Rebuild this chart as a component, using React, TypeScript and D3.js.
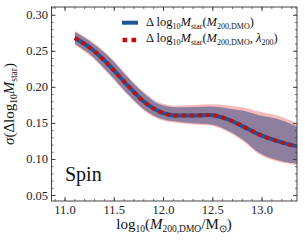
import React from "react";
import * as d3 from "d3";

const massX = [11.1, 11.28, 11.46, 11.63, 11.8, 11.96, 12.13, 12.3, 12.47, 12.64, 12.81, 12.98, 13.15, 13.32, 13.39];
const sigmaHalo = [0.2683, 0.2521, 0.2289, 0.2035, 0.1803, 0.1664, 0.1609, 0.1609, 0.1618, 0.1563, 0.1456, 0.134, 0.1257, 0.1192, 0.1174];
const haloUpper = [0.2766, 0.2613, 0.2405, 0.215, 0.1919, 0.1766, 0.1725, 0.1729, 0.1734, 0.1711, 0.1674, 0.1609, 0.1563, 0.1479, 0.1433];
const haloLower = [0.26, 0.2428, 0.2174, 0.1919, 0.1697, 0.1572, 0.1525, 0.1502, 0.1488, 0.141, 0.1271, 0.1086, 0.0993, 0.0947, 0.0932];
const sigmaSpin = [0.2683, 0.2521, 0.2289, 0.2035, 0.1803, 0.1664, 0.1609, 0.1609, 0.1618, 0.1563, 0.1456, 0.134, 0.1257, 0.1192, 0.1174];
const spinUpper = [0.278, 0.2627, 0.242, 0.2165, 0.1935, 0.1785, 0.1745, 0.1755, 0.1765, 0.175, 0.172, 0.166, 0.161, 0.152, 0.147];
const spinLower = [0.2585, 0.2412, 0.2158, 0.1903, 0.168, 0.1555, 0.1508, 0.1485, 0.147, 0.139, 0.125, 0.1065, 0.0975, 0.093, 0.0915];

const xTicks = [11.0, 11.5, 12.0, 12.5, 13.0];
const yTicks = [0.05, 0.1, 0.15, 0.2, 0.25, 0.3];

const W = 305, H = 243;
const L = 51.5, R = 297, T = 7, B = 201;
const FONT = "'Liberation Serif', 'Times New Roman', serif";

export default function App() {
  const x = d3.scaleLinear().domain([10.863, 13.355]).range([L, R]);
  const y = d3.scaleLinear().domain([0.0424, 0.3114]).range([B, T]);

  const idx = massX.map((_, i) => i);
  const area = (up: number[], lo: number[]) =>
    d3.area<number>().x(i => x(massX[i])).y0(i => y(lo[i])).y1(i => y(up[i])).curve(d3.curveMonotoneX)(idx) || "";
  const line = (v: number[]) =>
    d3.line<number>().x(i => x(massX[i])).y(i => y(v[i])).curve(d3.curveMonotoneX)(idx) || "";

  const xMinor = d3.range(108, 134).map(v => v / 10).filter(v => v >= 10.863 && v <= 13.355);
  const yMinor = d3.range(5, 32).map(v => v / 100).filter(v => v >= 0.0424 && v <= 0.3114);
  const axisColor = "#444";

  const sub = (t: string, fs = 8) => (
    <tspan fontSize={fs} baselineShift="-3">{t}</tspan>
  );

  return (
    <svg width={W} height={H} style={{ position: "absolute", left: 0, top: 0, background: "#fff" }} fontFamily={FONT}>
      <defs>
        <clipPath id="plot">
          <rect x={L} y={T} width={R - L} height={B - T} />
        </clipPath>
      </defs>
      <g clipPath="url(#plot)">
        <path d={area(spinUpper, spinLower)} fill="rgb(227,26,28)" fillOpacity={0.3} />
        <path d={area(haloUpper, haloLower)} fill="rgb(38,68,129)" fillOpacity={0.5} />
        <path d={line(sigmaHalo)} fill="none" stroke="#1f5596" strokeWidth={4} />
        <path d={line(sigmaSpin)} fill="none" stroke="#c40d0d" strokeWidth={4} strokeDasharray="4,4" />
      </g>
      <rect x={L} y={T} width={R - L} height={B - T} fill="none" stroke={axisColor} strokeWidth={1} />
      {xTicks.map(v => (
        <g key={"xt" + v}>
          <line x1={x(v)} x2={x(v)} y1={B} y2={B - 4} stroke={axisColor} />
          <line x1={x(v)} x2={x(v)} y1={T} y2={T + 4} stroke={axisColor} />
          <text x={x(v)} y={213.5} fontSize={12.5} textAnchor="middle" fill="#222">{v.toFixed(1)}</text>
        </g>
      ))}
      {xMinor.map(v => (
        <g key={"xm" + v}>
          <line x1={x(v)} x2={x(v)} y1={B} y2={B - 2} stroke={axisColor} strokeWidth={0.8} />
          <line x1={x(v)} x2={x(v)} y1={T} y2={T + 2} stroke={axisColor} strokeWidth={0.8} />
        </g>
      ))}
      {yTicks.map(v => (
        <g key={"yt" + v}>
          <line x1={L} x2={L + 4} y1={y(v)} y2={y(v)} stroke={axisColor} />
          <line x1={R} x2={R - 4} y1={y(v)} y2={y(v)} stroke={axisColor} />
          <text x={48} y={y(v) + 4} fontSize={12.5} textAnchor="end" fill="#222">{v.toFixed(2)}</text>
        </g>
      ))}
      {yMinor.map(v => (
        <g key={"ym" + v}>
          <line x1={L} x2={L + 2} y1={y(v)} y2={y(v)} stroke={axisColor} strokeWidth={0.8} />
          <line x1={R} x2={R - 2} y1={y(v)} y2={y(v)} stroke={axisColor} strokeWidth={0.8} />
        </g>
      ))}
      <line x1={122} x2={138} y1={22.7} y2={22.7} stroke="#1f5596" strokeWidth={4} />
      <line x1={122.5} x2={138} y1={40} y2={40} stroke="#c40d0d" strokeWidth={4.5} strokeDasharray="4.7,4.3" />
      <text x={146} y={25.8} fontSize={12.5} fill="#111">
        <tspan>Δ log</tspan>{sub("10")}<tspan fontStyle="italic">M</tspan>{sub("star")}<tspan>(</tspan>
        <tspan fontStyle="italic">M</tspan>{sub("200,DMO")}<tspan>)</tspan>
      </text>
      <text x={146} y={41.5} fontSize={12.5} fill="#111">
        <tspan>Δ log</tspan>{sub("10")}<tspan fontStyle="italic">M</tspan>{sub("star")}<tspan>(</tspan>
        <tspan fontStyle="italic">M</tspan>{sub("200,DMO")}<tspan>, </tspan><tspan fontStyle="italic">λ</tspan>{sub("200")}<tspan>)</tspan>
      </text>
      <text x={65} y={181} fontSize={20} fill="#111">Spin</text>
      <text x={174} y={229} fontSize={15} textAnchor="middle" fill="#111">
        <tspan>log</tspan>{sub("10", 9.5)}<tspan>(</tspan><tspan fontStyle="italic">M</tspan>{sub("200,DMO", 9.5)}<tspan>/M</tspan>{sub("⊙", 9.5)}<tspan>)</tspan>
      </text>
      <text transform={`translate(14,${(T + B) / 2}) rotate(-90)`} fontSize={15} textAnchor="middle" fill="#111">
        <tspan fontStyle="italic">σ</tspan><tspan>(Δlog</tspan>{sub("10", 9.5)}<tspan fontStyle="italic">M</tspan>{sub("star", 9.5)}<tspan>)</tspan>
      </text>
    </svg>
  );
}
